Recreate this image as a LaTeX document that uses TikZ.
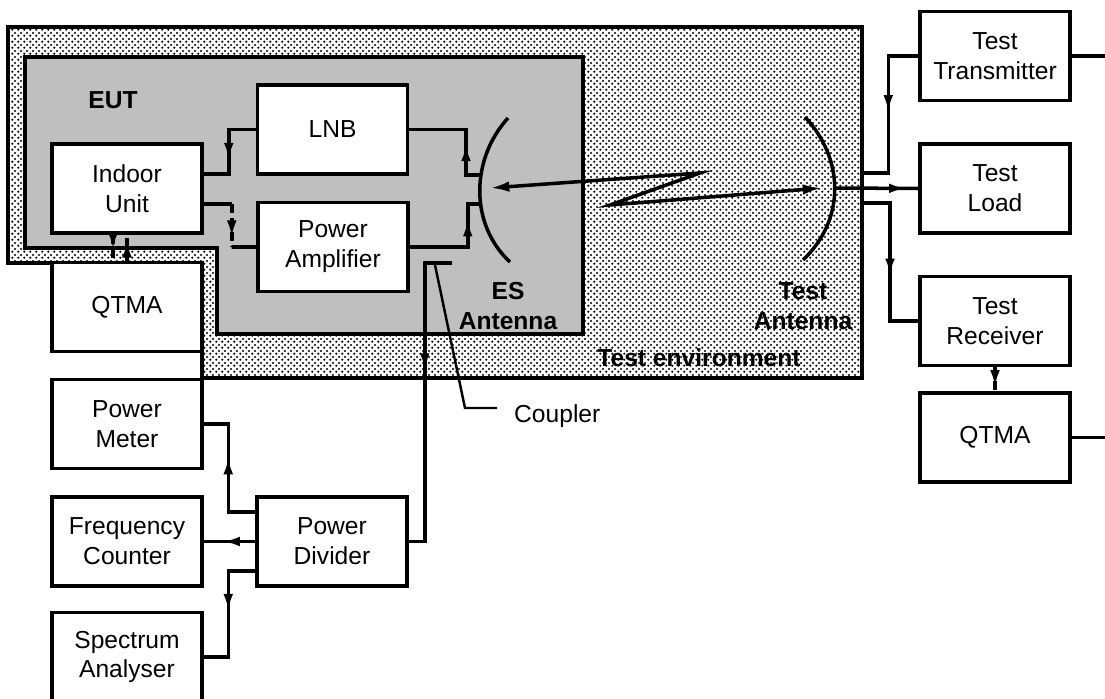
\documentclass[tikz,border=0pt]{standalone}
\usepackage{fontspec}
\setmainfont{Liberation Sans}
\usepackage{tikz}
\usetikzlibrary{positioning,calc,patterns,decorations.markings,arrows.meta}

\pgfdeclarepatternformonly{envdots}{\pgfpointorigin}{\pgfqpoint{3.2pt}{3.2pt}}{\pgfqpoint{3.2pt}{3.2pt}}{%
    \pgfpathcircle{\pgfqpoint{0.8pt}{0.8pt}}{0.7pt}%
    \pgfpathcircle{\pgfqpoint{2.4pt}{2.4pt}}{0.7pt}%
    \pgfusepath{fill}}

\begin{document}
\begin{tikzpicture}[
    x=0.02cm, y=-0.02cm,
    every node/.style={font=\fontsize{14}{17}\selectfont, align=center},
    unit/.style={rectangle, draw, fill=white, line width=2pt, minimum width=3cm, minimum height=1.78cm, inner sep=0pt},
    wire/.style={line width=2pt},
    broken/.style={dash pattern=on 5pt off 3pt},
    midarrow/.style={postaction={decorate, decoration={markings, mark=at position #1 with {\arrow{Latex[length=10pt,width=5.5pt]}}}}},
    lbl/.style={font=\fontsize{14}{17}\selectfont\bfseries}
]
    \useasboundingbox (0,0) rectangle (1105,699);

    \draw[line width=2pt, pattern=envdots, pattern color=black] (8,27) -- (862,27) -- (862,378) -- (202,378) -- (202,263) -- (8,263) -- cycle;
    \draw[line width=2pt, fill=black!25] (25,57) -- (583,57) -- (583,334) -- (217,334) -- (217,248) -- (25,248) -- cycle;

    \node[unit] (idu) at (127,188.5) {Indoor\\Unit};
    \node[unit] (lnb) at (332.5,129.5) {LNB};
    \node[unit] (pa) at (333,247) {Power\\Amplifier};
    \node[unit] (qtmaL) at (127,307) {QTMA};
    \node[unit] (pm) at (127,424) {Power\\Meter};
    \node[unit] (fc) at (127,541.5) {Frequency\\Counter};
    \node[unit] (sa) at (127,657) {Spectrum\\Analyser};
    \node[unit] (pd) at (332,541.5) {Power\\Divider};
    \node[unit] (ttx) at (995,56) {Test\\Transmitter};
    \node[unit] (tload) at (995,188.5) {Test\\Load};
    \node[unit] (trx) at (995,321) {Test\\Receiver};
    \node[unit] (qtmaR) at (995,437.5) {QTMA};

    \draw[line width=2pt] (508,118) .. controls (470,160) and (470,225) .. (510,262);
    \draw[line width=2pt] (805,117) .. controls (845,160) and (845,220) .. (803,260);

    \coordinate (esTop) at (480,175);
    \coordinate (esBot) at (480,204);
    \coordinate (esC) at (490,188);
    \coordinate (zz1) at (700,173);
    \coordinate (zz2) at (610,205);
    \coordinate (taC) at (822,188);
    \coordinate (taFeed) at (835,188);
    \coordinate (envTx) at (862,173);
    \coordinate (envRx) at (862,203);
    \coordinate (cpl) at (452,263);
    \coordinate (cplTip) at (435,265);
    \coordinate (cplEnd) at (497,408);
    \coordinate (txOut) at (1110,56);
    \coordinate (qOut) at (1110,437.5);

    \draw[wire, midarrow=0.6] (lnb.west) -- ++(-27,0) |- ([yshift=0.29cm]idu.east);
    \draw[wire] ([yshift=-0.31cm]idu.east) -- ++(28,0) coordinate (ipa1);
    \draw[wire, broken, midarrow=0.79] (ipa1) -- ++(0,43) coordinate (ipa2);
    \draw[wire] (ipa2) -- (pa.west);
    \draw[wire, midarrow=0.39] (esTop) -- ++(-14,0) |- (lnb.east);
    \draw[wire, midarrow=0.76] (pa.east) -- ++(58,0) |- (esBot);
    \draw[wire, {Latex[length=11pt,width=6pt]}-{Latex[length=11pt,width=6pt]}] (esC) -- (zz1) -- (zz2) -- (taC);

    \draw[wire, midarrow=0.86] (taFeed) -- (tload.west);
    \draw[wire, midarrow=0.5] (ttx.west) -- ++(-30,0) |- (envTx);
    \draw[wire, midarrow=0.58] (envRx) -- ++(28,0) |- (trx.west);
    \draw[wire, broken, midarrow=0.85] (trx.south) -- (qtmaR.north);
    \draw[wire] (ttx.east) -- (txOut);
    \draw[wire] (qtmaR.east) -- (qOut);

    \draw[wire, broken, midarrow=0.6] ([xshift=-0.28cm]idu.south) -- ([xshift=-0.28cm]qtmaL.north);
    \draw[wire, broken, midarrow=0.8] (qtmaL.north) -- (idu.south);

    \draw[wire, midarrow=0.59] ([yshift=0.59cm]pd.west) -- ++(-27,0) |- (pm.east);
    \draw[wire, midarrow=0.64] (pd.west) -- (fc.east);
    \draw[wire, midarrow=0.49] ([yshift=-0.59cm]pd.west) -- ++(-27,0) |- (sa.east);
    \draw[wire, midarrow=0.42] (cpl) -| ($(pd.east)+(16,0)$) -- (pd.east);

    \draw[line width=1.4pt] (cplTip) -- (465,408) -- (cplEnd);
    \node[anchor=west] (cplLabel) at (508,416) {Coupler};

    \node[lbl] (eutLbl) at (113,100) {EUT};
    \node[lbl] (esLbl) at (508,306) {ES\\Antenna};
    \node[lbl] (taLbl) at (803,306) {Test\\Antenna};
    \node[lbl] (envLbl) at (699,358) {Test environment};
\end{tikzpicture}
\end{document}
